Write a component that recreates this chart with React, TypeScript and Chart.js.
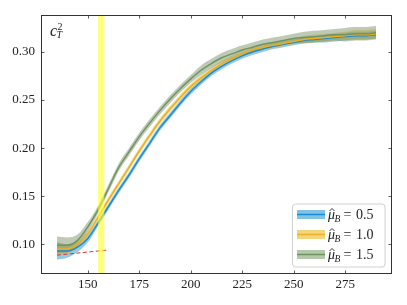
import React, { useEffect, useRef } from "react";
import { Chart, registerables } from "chart.js";
Chart.register(...registerables);

const temps = [135, 140, 145, 150, 155, 160, 165, 170, 175, 180, 185, 190, 195, 200, 205, 210, 215, 220, 225, 230, 235, 240, 245, 250, 255, 260, 265, 270, 275, 280, 285, 290];
const blueMid = [0.093, 0.093, 0.097, 0.106, 0.122, 0.139, 0.156, 0.172, 0.189, 0.205, 0.221, 0.234, 0.247, 0.259, 0.269, 0.278, 0.285, 0.291, 0.296, 0.300, 0.303, 0.306, 0.308, 0.310, 0.312, 0.313, 0.314, 0.315, 0.316, 0.317, 0.317, 0.318];
const blueErr = [0.009, 0.007, 0.005, 0.004, 0.003, 0.003, 0.003, 0.003, 0.003, 0.003, 0.003, 0.003, 0.003, 0.003, 0.003, 0.003, 0.003, 0.003, 0.003, 0.003, 0.003, 0.003, 0.003, 0.003, 0.003, 0.003, 0.004, 0.004, 0.004, 0.004, 0.004, 0.004];
const yellowMid = [0.095, 0.095, 0.100, 0.111, 0.128, 0.146, 0.163, 0.180, 0.197, 0.213, 0.228, 0.241, 0.253, 0.264, 0.273, 0.281, 0.288, 0.293, 0.298, 0.302, 0.305, 0.307, 0.309, 0.311, 0.313, 0.314, 0.315, 0.316, 0.317, 0.318, 0.318, 0.319];
const yellowErr = [0.006, 0.005, 0.004, 0.003, 0.003, 0.003, 0.003, 0.003, 0.003, 0.003, 0.003, 0.003, 0.003, 0.003, 0.003, 0.003, 0.003, 0.003, 0.003, 0.003, 0.003, 0.003, 0.003, 0.003, 0.004, 0.004, 0.004, 0.004, 0.004, 0.005, 0.005, 0.005];
const greenMid = [0.099, 0.099, 0.104, 0.118, 0.136, 0.158, 0.180, 0.196, 0.212, 0.226, 0.239, 0.251, 0.262, 0.272, 0.281, 0.288, 0.294, 0.298, 0.302, 0.305, 0.308, 0.310, 0.312, 0.314, 0.315, 0.316, 0.317, 0.318, 0.318, 0.319, 0.319, 0.320];
const greenErr = [0.009, 0.008, 0.006, 0.005, 0.004, 0.004, 0.004, 0.004, 0.004, 0.004, 0.004, 0.004, 0.004, 0.004, 0.005, 0.005, 0.005, 0.005, 0.005, 0.005, 0.005, 0.005, 0.005, 0.005, 0.006, 0.006, 0.006, 0.006, 0.007, 0.007, 0.007, 0.007];

const seriesLabels = ["0.5", "1.0", "1.5"];
const lineColors = ["#1f8ad0", "#e9b024", "#6f9462"];
const bandColors = ["rgba(40,150,215,0.5)", "rgba(238,190,40,0.5)", "rgba(125,150,110,0.5)"];
const legendPatch = ["#80c1e6", "#f3d57e", "#b6c8aa"];

const crossoverBand = [155, 158];
const redLineX = [135, 160];
const redLineY = [0.0886, 0.094];

const xTicks = [150, 175, 200, 225, 250, 275];
const yTicks = [0.10, 0.15, 0.20, 0.25, 0.30];
const xRange = [127.25, 297.75];
const yRange = [0.069, 0.3385];

const FONT = "'Liberation Serif', 'DejaVu Serif', serif";

const overlay = {
  id: "overlay",
  afterDatasetsDraw(chart: any) {
    const ctx = chart.ctx;
    const xs = chart.scales.x;
    const ca = chart.chartArea;
    const x0 = xs.getPixelForValue(crossoverBand[0]);
    const x1 = xs.getPixelForValue(crossoverBand[1]);
    ctx.save();
    ctx.fillStyle = "rgba(255,255,40,0.62)";
    ctx.fillRect(x0, ca.top, x1 - x0, ca.bottom - ca.top);
    ctx.restore();
  },
  afterDraw(chart: any) {
    const ctx = chart.ctx;
    const xs = chart.scales.x;
    const ys = chart.scales.y;
    const ca = chart.chartArea;
    ctx.save();
    // frame
    ctx.strokeStyle = "#333";
    ctx.lineWidth = 1;
    ctx.strokeRect(Math.round(ca.left) + 0.5, Math.round(ca.top) + 0.5, Math.round(ca.right - ca.left) - 1, Math.round(ca.bottom - ca.top) - 1);
    // ticks inward
    const tl = 3.5;
    ctx.lineWidth = 0.8;
    ctx.beginPath();
    for (const v of xTicks) {
      const px = Math.round(xs.getPixelForValue(v)) + 0.5;
      ctx.moveTo(px, ca.bottom);
      ctx.lineTo(px, ca.bottom - tl);
      ctx.moveTo(px, ca.top);
      ctx.lineTo(px, ca.top + tl);
    }
    for (const v of yTicks) {
      const py = Math.round(ys.getPixelForValue(v)) + 0.5;
      ctx.moveTo(ca.left, py);
      ctx.lineTo(ca.left + tl, py);
      ctx.moveTo(ca.right, py);
      ctx.lineTo(ca.right - tl, py);
    }
    ctx.stroke();

    // c_T^2 label
    ctx.fillStyle = "#222";
    ctx.textBaseline = "alphabetic";
    ctx.textAlign = "left";
    ctx.font = `italic 16px ${FONT}`;
    ctx.fillText("c", ca.left + 9, ca.top + 20.5);
    ctx.font = `10px ${FONT}`;
    ctx.fillText("2", ca.left + 16.5, ca.top + 15);
    ctx.font = `italic 10px ${FONT}`;
    ctx.fillText("T", ca.left + 15.5, ca.top + 23);

    // legend
    const lx = 292, ly = 203.5, lw = 92.5, lh = 63;
    ctx.beginPath();
    if (ctx.roundRect) ctx.roundRect(lx + 0.5, ly + 0.5, lw, lh, 3);
    else ctx.rect(lx + 0.5, ly + 0.5, lw, lh);
    ctx.fillStyle = "rgba(255,255,255,0.85)";
    ctx.fill();
    ctx.strokeStyle = "#d0d0d0";
    ctx.lineWidth = 1;
    ctx.stroke();
    for (let i = 0; i < 3; i++) {
      const cy = 214.5 + i * 20;
      ctx.fillStyle = legendPatch[i];
      ctx.fillRect(297, cy - 4.5, 28, 9);
      ctx.strokeStyle = lineColors[i];
      ctx.lineWidth = 1.5;
      ctx.beginPath();
      ctx.moveTo(297, cy);
      ctx.lineTo(325, cy);
      ctx.stroke();
      // text: mu-hat_B = value
      ctx.fillStyle = "#222";
      const tx = 328;
      const base = cy + 4.5;
      ctx.font = `italic 14px ${FONT}`;
      ctx.fillText("\u03bc", tx, base);
      // hat
      ctx.strokeStyle = "#222";
      ctx.lineWidth = 0.9;
      ctx.beginPath();
      ctx.moveTo(tx + 1.5, base - 8);
      ctx.lineTo(tx + 4, base - 10.5);
      ctx.lineTo(tx + 6.5, base - 8);
      ctx.stroke();
      ctx.font = `italic 9.5px ${FONT}`;
      ctx.fillText("B", tx + 6.5, base + 2.5);
      ctx.font = `14px ${FONT}`;
      ctx.fillText("=", tx + 15.5, base);
      ctx.fillText(seriesLabels[i], tx + 28, base);
    }
    ctx.restore();
  },
};

export default function App() {
  const ref = useRef<HTMLCanvasElement>(null);
  useEffect(() => {
    document.body.style.margin = "0";
    const mids = [blueMid, yellowMid, greenMid];
    const errs = [blueErr, yellowErr, greenErr];
    const datasets: any[] = [];
    // bands
    mids.forEach((m, k) => {
      const lowerIdx = datasets.length;
      datasets.push({
        data: temps.map((t, i) => ({ x: t, y: m[i] - errs[k][i] })),
        borderWidth: 0,
        pointRadius: 0,
        fill: false,
        cubicInterpolationMode: "monotone",
        order: 10 - k * 2,
      });
      datasets.push({
        data: temps.map((t, i) => ({ x: t, y: m[i] + errs[k][i] })),
        borderWidth: 0,
        pointRadius: 0,
        backgroundColor: bandColors[k],
        fill: lowerIdx,
        cubicInterpolationMode: "monotone",
        order: 9 - k * 2,
      });
    });
    mids.forEach((m, k) => {
      datasets.push({
        data: temps.map((t, i) => ({ x: t, y: m[i] })),
        borderColor: lineColors[k],
        borderWidth: 1.5,
        pointRadius: 0,
        fill: false,
        cubicInterpolationMode: "monotone",
        order: 3 - k,
      });
    });
    datasets.push({
      data: redLineX.map((x, i) => ({ x, y: redLineY[i] })),
      borderColor: "#e0302a",
      borderWidth: 1,
      borderDash: [4, 2.5],
      pointRadius: 0,
      fill: false,
      order: 0,
    });

    const chart = new Chart(ref.current as HTMLCanvasElement, {
      type: "line",
      data: { datasets },
      options: {
        animation: false,
        responsive: false,
        events: [],
        layout: { padding: { top: 15, right: 15, left: 0, bottom: 0 } },
        plugins: { legend: { display: false }, tooltip: { enabled: false } },
        scales: {
          x: {
            type: "linear",
            min: xRange[0],
            max: xRange[1],
            grid: { display: false, drawTicks: false },
            border: { display: false },
            afterBuildTicks: (s: any) => { s.ticks = xTicks.map((v) => ({ value: v })); },
            afterFit: (s: any) => { s.height = 31; },
            ticks: {
              padding: 3,
              color: "#222",
              font: { family: FONT, size: 13 },
              maxRotation: 0,
              callback: (v: any) => String(v),
            },
          },
          y: {
            type: "linear",
            min: yRange[0],
            max: yRange[1],
            grid: { display: false, drawTicks: false },
            border: { display: false },
            afterBuildTicks: (s: any) => { s.ticks = yTicks.map((v) => ({ value: v })); },
            afterFit: (s: any) => { s.width = 41; },
            ticks: {
              padding: 6,
              color: "#222",
              font: { family: FONT, size: 13 },
              callback: (v: any) => Number(v).toFixed(2),
            },
          },
        },
      },
      plugins: [overlay],
    });
    return () => chart.destroy();
  }, []);
  return (
    <div style={{ width: 407, height: 305, background: "#fff" }}>
      <canvas ref={ref} width={407} height={305} style={{ display: "block" }} />
    </div>
  );
}
